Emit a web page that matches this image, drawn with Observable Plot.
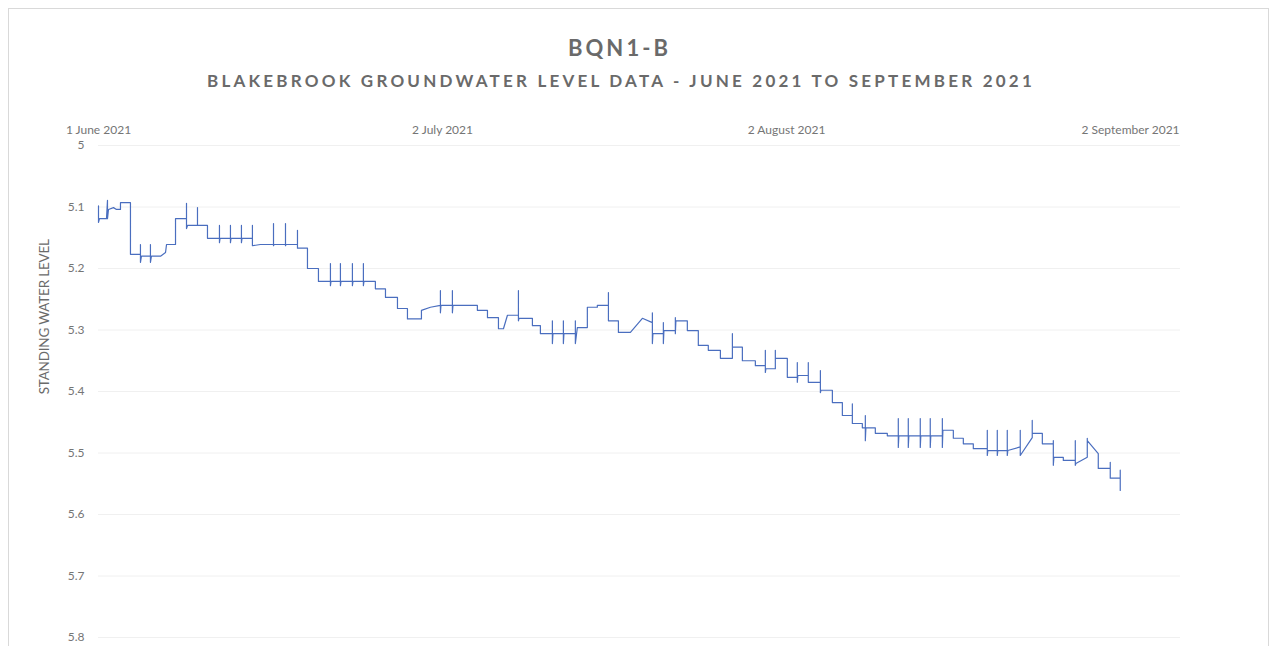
<!DOCTYPE html>
<html><head><meta charset="utf-8">
<script src="https://cdn.jsdelivr.net/npm/d3@7"></script>
<script src="https://cdn.jsdelivr.net/npm/@observablehq/plot@0.6"></script>
<style>
body{margin:0;background:#fff;}
#wrap{position:relative;width:1275px;height:646px;overflow:hidden;font-family:Lato,"Open Sans",sans-serif;background:#fff;}
#frame{position:absolute;left:8px;top:8px;width:1259px;height:700px;border:1px solid #d9d9d9;}
#chart{position:absolute;left:0;top:0;}
.t{position:absolute;white-space:nowrap;color:#6a6a6a;line-height:1;}
#title{font-size:22px;font-weight:700;}
#sub{font-size:17px;font-weight:700;}
#ylab{font-size:13.5px;font-weight:400;transform-origin:center center;}
</style></head><body>
<div id="wrap">
<div id="frame"></div>
<div id="chart"></div>
<div id="title" class="t">BQN1-B</div>
<div id="sub" class="t">BLAKEBROOK GROUNDWATER LEVEL DATA - JUNE 2021 TO SEPTEMBER 2021</div>
<div id="ylab" class="t">STANDING WATER LEVEL</div>
</div>
<script>
// Days after 1 June 2021 (00:00 UTC) and standing water level readings
const day = [0.00,0.00,0.09,0.72,0.81,0.81,0.90,1.35,1.62,1.98,1.98,2.88,2.88,3.78,3.78,3.78,3.87,4.68,4.68,4.68,4.77,5.59,6.04,6.13,6.94,6.94,7.93,7.93,7.93,8.02,8.92,8.92,8.92,9.82,9.82,
10.90,10.90,10.90,10.95,11.89,11.89,11.89,11.94,12.88,12.88,12.88,12.93,13.87,13.87,13.87,14.59,15.77,15.77,15.77,15.82,16.85,16.85,16.85,16.90,17.93,17.93,17.93,18.83,18.83,19.82,19.82,
20.90,20.90,20.90,20.95,21.80,21.80,21.80,21.85,22.88,22.88,22.88,22.93,23.87,23.87,23.87,23.92,24.95,24.95,25.86,25.86,26.94,26.94,27.84,27.84,29.10,29.10,29.91,
30.81,30.81,30.81,30.86,31.89,31.89,31.89,31.94,34.14,34.14,35.05,35.05,36.04,36.04,36.49,36.85,37.84,37.84,37.84,37.89,39.10,39.10,39.82,39.82,
40.90,40.90,40.90,40.95,41.89,41.89,41.89,41.94,42.97,42.97,42.97,43.15,44.05,44.05,44.95,44.95,45.95,45.95,45.95,46.85,46.85,47.93,49.01,
49.91,49.91,49.91,49.96,50.90,50.90,50.90,50.95,51.98,51.98,51.98,52.03,53.06,53.06,54.05,54.05,54.95,54.95,56.04,56.04,57.12,57.12,57.12,58.02,58.02,59.19,59.19,
60.09,60.09,60.09,60.14,60.99,60.99,60.99,62.07,62.07,62.97,62.97,62.97,63.02,63.96,63.96,63.96,65.05,65.05,65.05,65.10,66.13,66.13,67.03,67.03,67.93,67.93,67.93,68.83,68.83,
69.10,69.10,69.10,69.15,70.00,70.00,71.08,71.08,72.07,72.07,72.07,72.12,72.97,72.97,72.97,73.02,74.05,74.05,74.05,74.10,74.95,74.95,74.95,75.00,76.04,76.04,76.04,76.09,
77.03,77.03,77.93,77.93,78.83,78.83,80.09,80.09,80.09,80.14,80.99,80.99,80.99,81.04,81.89,81.89,81.89,81.94,83.06,83.06,83.06,84.14,84.14,84.14,85.05,85.05,
86.04,86.04,86.04,86.04,86.09,86.94,86.94,88.02,88.02,88.02,88.07,89.10,89.10,89.10,90.09,90.09,91.17,91.17,91.17,92.07,92.07,92.07];
const level = [5.098,5.125,5.119,5.119,5.089,5.119,5.104,5.101,5.104,5.104,5.093,5.093,5.177,5.177,5.161,5.190,5.180,5.180,5.161,5.190,5.180,5.180,5.174,5.161,5.161,5.119,5.119,5.094,5.135,5.130,5.130,5.101,5.130,5.130,5.151,
5.151,5.130,5.158,5.151,5.151,5.130,5.158,5.151,5.151,5.130,5.158,5.151,5.151,5.130,5.163,5.161,5.161,5.127,5.163,5.161,5.161,5.127,5.163,5.161,5.161,5.138,5.167,5.167,5.200,5.200,5.221,
5.221,5.192,5.228,5.221,5.221,5.192,5.228,5.221,5.221,5.192,5.228,5.221,5.221,5.192,5.228,5.221,5.221,5.233,5.233,5.247,5.247,5.265,5.265,5.282,5.282,5.268,5.263,
5.260,5.236,5.272,5.260,5.260,5.236,5.272,5.260,5.260,5.268,5.268,5.280,5.280,5.298,5.298,5.276,5.276,5.236,5.285,5.281,5.281,5.293,5.293,5.306,
5.306,5.285,5.322,5.306,5.306,5.285,5.322,5.306,5.306,5.285,5.322,5.296,5.296,5.263,5.263,5.260,5.260,5.239,5.285,5.285,5.304,5.304,5.281,
5.288,5.272,5.322,5.306,5.306,5.288,5.322,5.301,5.301,5.280,5.306,5.285,5.285,5.301,5.301,5.325,5.325,5.333,5.333,5.346,5.346,5.306,5.328,5.328,5.350,5.350,5.358,
5.358,5.333,5.369,5.363,5.363,5.333,5.346,5.346,5.377,5.377,5.353,5.385,5.374,5.374,5.353,5.385,5.385,5.366,5.402,5.398,5.398,5.418,5.418,5.439,5.439,5.420,5.452,5.452,5.459,
5.459,5.439,5.480,5.459,5.459,5.468,5.468,5.472,5.472,5.444,5.491,5.472,5.472,5.444,5.491,5.472,5.472,5.444,5.491,5.472,5.472,5.444,5.491,5.472,5.472,5.444,5.491,5.463,
5.463,5.476,5.476,5.485,5.485,5.493,5.493,5.463,5.504,5.496,5.496,5.463,5.504,5.496,5.496,5.463,5.504,5.496,5.490,5.463,5.504,5.475,5.447,5.468,5.468,5.485,
5.485,5.507,5.480,5.520,5.507,5.507,5.512,5.512,5.480,5.520,5.517,5.507,5.476,5.480,5.501,5.525,5.525,5.515,5.541,5.541,5.528,5.561];

const yTicks = [5, 5.1, 5.2, 5.3, 5.4, 5.5, 5.6, 5.7, 5.8];
const xTickDates = ["2021-06-01", "2021-07-02", "2021-08-02", "2021-09-02"];
const xTickLabels = ["1 June 2021", "2 July 2021", "2 August 2021", "2 September 2021"];

const t0 = Date.UTC(2021, 5, 1);
const data = day.map((d, i) => ({date: new Date(t0 + d * 864e5), level: level[i]}));
const tickDates = xTickDates.map(s => new Date(s + "T00:00:00Z"));
const labelMap = new Map(tickDates.map((d, i) => [+d, xTickLabels[i]]));

const chart = Plot.plot({
  width: 1275, height: 646,
  marginLeft: 98, marginRight: 95, marginTop: 145, marginBottom: 9,
  style: {fontFamily: "Lato, 'Open Sans', sans-serif", fontSize: "12px", color: "#757575", background: "transparent", overflow: "visible"},
  x: {type: "utc", domain: [new Date(t0), new Date(t0 + 97.5 * 864e5)], axis: null},
  y: {domain: [5, 5.8], reverse: true, axis: null},
  marks: [
    Plot.ruleY(yTicks, {stroke: "#f0f0f0", strokeWidth: 1}),
    Plot.axisY({ticks: yTicks, tickSize: 0, tickPadding: 14, label: null, tickFormat: d3.format(".2~f")}),
    Plot.axisX({anchor: "top", ticks: tickDates, tickSize: 0, tickPadding: 12, label: null, tickFormat: d => labelMap.get(+d)}),
    Plot.line(data, {x: "date", y: "level", stroke: "#4a6ebf", strokeWidth: 1.2})
  ]
});
document.getElementById("chart").appendChild(chart);

function fit(id, left, width, top) {
  const el = document.getElementById(id);
  const n = el.textContent.length;
  const w = el.getBoundingClientRect().width;
  el.style.letterSpacing = ((width - w) / n) + "px";
  el.style.left = left + "px";
  el.style.top = top + "px";
}
fit("title", 568, 103, 37);
fit("sub", 207, 828, 72);
(function(){
  const el = document.getElementById("ylab");
  const n = el.textContent.length;
  const w0 = el.getBoundingClientRect().width;
  el.style.letterSpacing = ((155 - w0) / n) + "px";
  const r = el.getBoundingClientRect();
  el.style.left = (44 - r.width / 2) + "px";
  el.style.top = (317 - r.height / 2) + "px";
  el.style.transform = "rotate(-90deg)";
})();
</script>
</body></html>
